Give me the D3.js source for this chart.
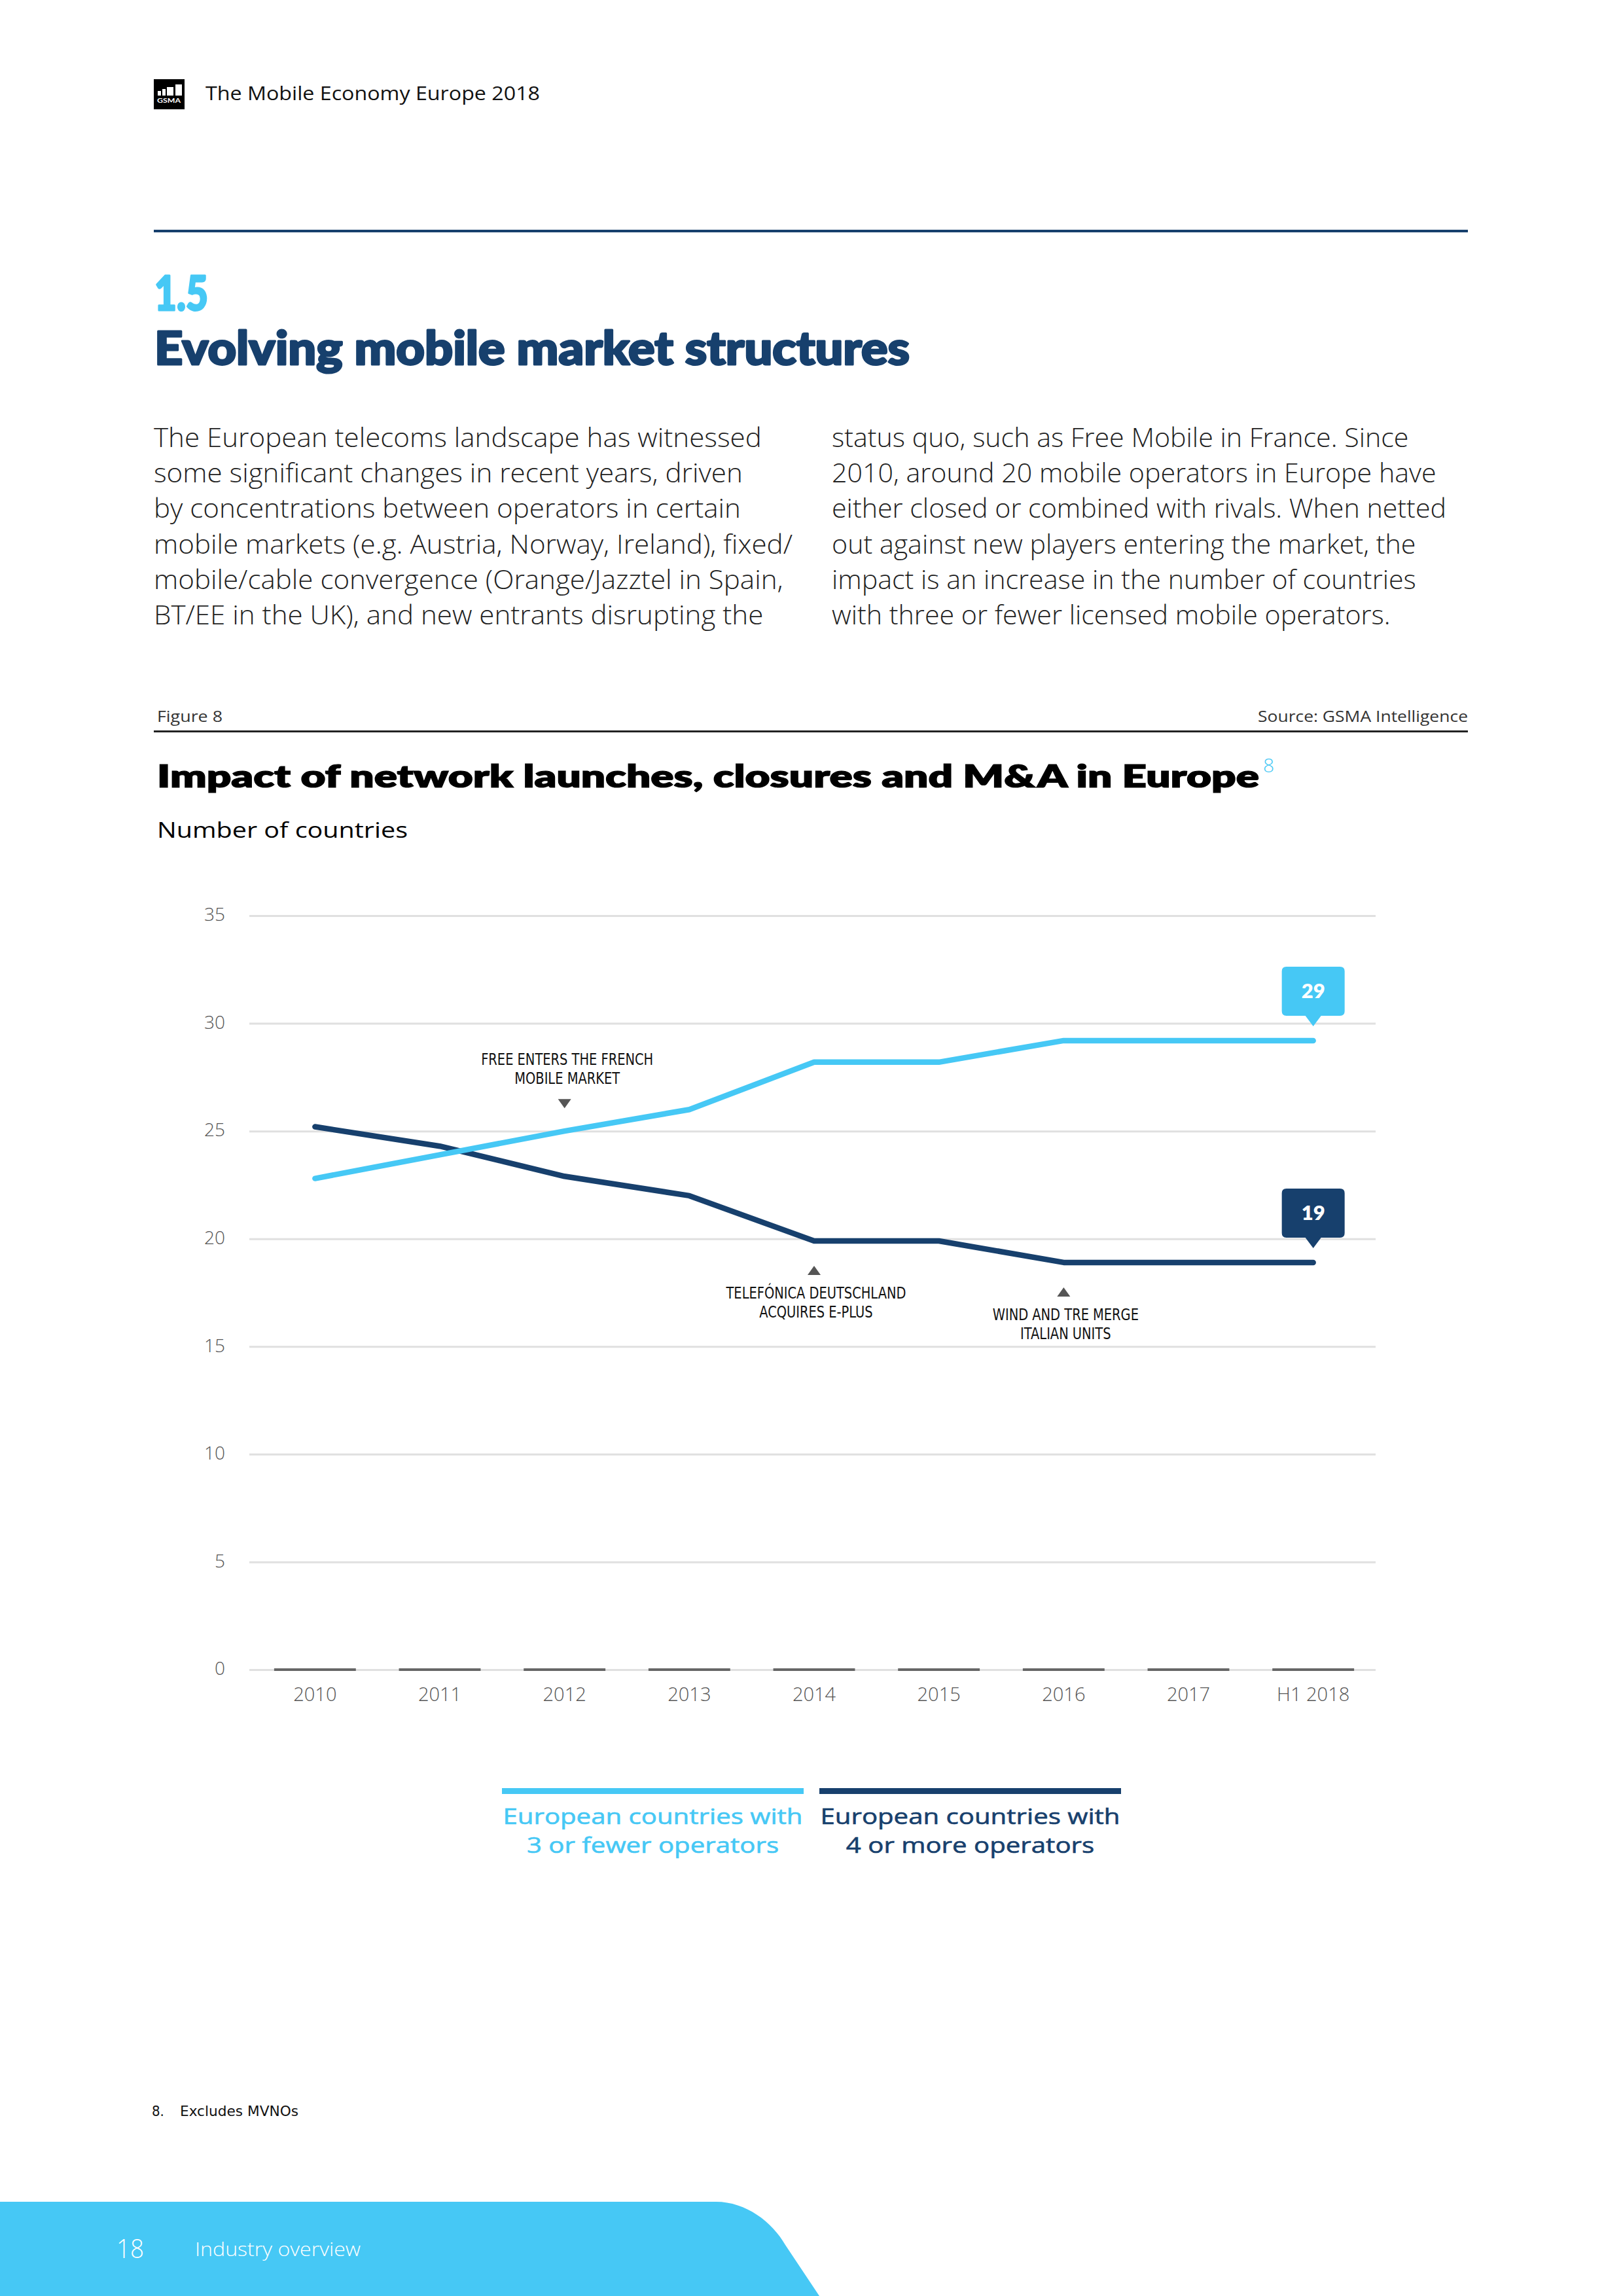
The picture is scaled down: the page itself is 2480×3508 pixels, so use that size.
<!DOCTYPE html>
<html>
<head>
<meta charset="utf-8">
<script src="https://cdn.jsdelivr.net/npm/d3@7"></script>
<style>
  html, body { margin: 0; padding: 0; background: #fff; }
  svg { display: block; }
</style>
</head>
<body>
<svg id="page" width="2480" height="3508"></svg>
<script>
// ---------------- DATA ----------------
const categories = ["2010", "2011", "2012", "2013", "2014", "2015", "2016", "2017", "H1 2018"];
const fewerOperators = [22.8, 23.9, 25, 26, 28.2, 28.2, 29.2, 29.2, 29.2];   // 3 or fewer operators
const moreOperators  = [25.2, 24.3, 22.9, 22, 19.9, 19.9, 18.9, 18.9, 18.9]; // 4 or more operators
const zeroBars = [0, 0, 0, 0, 0, 0, 0, 0, 0];
const yTicks = [0, 5, 10, 15, 20, 25, 30, 35];
const seriesLabels = [
  ["European countries with", "3 or fewer operators"],
  ["European countries with", "4 or more operators"]
];
const annotationCats = ["2012", "2014", "2016"];
const annotationSeries = ["fewer", "more", "more"];
const annotationDirs = ["down", "up", "up"];
const annotationTexts = [
  ["FREE ENTERS THE FRENCH", "MOBILE MARKET"],
  ["TELEFÓNICA DEUTSCHLAND", "ACQUIRES E-PLUS"],
  ["WIND AND TRE MERGE", "ITALIAN UNITS"]
];
const leftParagraph = [
  "The European telecoms landscape has witnessed",
  "some significant changes in recent years, driven",
  "by concentrations between operators in certain",
  "mobile markets (e.g. Austria, Norway, Ireland), fixed/",
  "mobile/cable convergence (Orange/Jazztel in Spain,",
  "BT/EE in the UK), and new entrants disrupting the"
];
const rightParagraph = [
  "status quo, such as Free Mobile in France. Since",
  "2010, around 20 mobile operators in Europe have",
  "either closed or combined with rivals. When netted",
  "out against new players entering the market, the",
  "impact is an increase in the number of countries",
  "with three or fewer licensed mobile operators."
];

// ---------------- STYLE ----------------
const LIGHT = "#46C8F5";
const NAVY = "#17406D";
const SANS = "'Open Sans', 'Noto Sans', Lato, sans-serif";
const HEAVY = "Lato, 'Noto Sans', sans-serif";
const COND = "'Liberation Sans Narrow', 'DejaVu Sans Condensed', 'Roboto Condensed', sans-serif";

const svg = d3.select("#page");
svg.append("rect").attr("width", 2480).attr("height", 3508).attr("fill", "#fff");

function fit(sel, w) { return sel.attr("textLength", w).attr("lengthAdjust", "spacingAndGlyphs"); }
function squeeze(sel, k) {
  sel.each(function () {
    const l = this.getComputedTextLength();
    d3.select(this).attr("textLength", l * k).attr("lengthAdjust", "spacingAndGlyphs");
  });
  return sel;
}

// ---------------- HEADER ----------------
const logo = svg.append("g");
logo.append("rect").attr("x", 235).attr("y", 121).attr("width", 47).attr("height", 46).attr("fill", "#000");
[[241, 139, 5], [248, 136, 5], [255, 133, 10], [268, 129, 10]].forEach(b => {
  logo.append("rect").attr("x", b[0]).attr("y", b[1]).attr("width", b[2]).attr("height", 146 - b[1]).attr("fill", "#fff");
});
fit(logo.append("text").attr("x", 240).attr("y", 157).attr("font-family", HEAVY).attr("font-weight", 700)
  .attr("font-size", 9).attr("fill", "#fff").text("GSMA"), 36);

fit(svg.append("text").attr("x", 314).attr("y", 153).attr("font-family", SANS).attr("font-weight", 500)
  .attr("font-size", 29).attr("fill", "#111").text("The Mobile Economy Europe 2018"), 511);

svg.append("rect").attr("x", 235).attr("y", 351).attr("width", 2008).attr("height", 4).attr("fill", NAVY);

fit(svg.append("text").attr("x", 236).attr("y", 474).attr("font-family", HEAVY).attr("font-weight", 900)
  .attr("font-size", 72).attr("fill", LIGHT).attr("stroke", LIGHT).attr("stroke-width", 3)
  .attr("stroke-linejoin", "round").text("1.5"), 82);
fit(svg.append("text").attr("x", 236).attr("y", 557).attr("font-family", HEAVY).attr("font-weight", 900)
  .attr("font-size", 70).attr("fill", NAVY).attr("stroke", NAVY).attr("stroke-width", 3)
  .attr("stroke-linejoin", "round").text("Evolving mobile market structures"), 1154);

// ---------------- BODY TEXT ----------------
function paragraph(lines, x, target) {
  const g = svg.append("g");
  const t = g.selectAll("text").data(lines).join("text")
    .attr("x", x).attr("y", (d, i) => 683 + i * 54.2)
    .attr("font-family", SANS).attr("font-weight", 300).attr("font-size", 40).attr("fill", "#222")
    .text(d => d);
  const maxLen = d3.max(t.nodes(), n => n.getComputedTextLength());
  squeeze(t, target / maxLen);
}
paragraph(leftParagraph, 235, 976);
paragraph(rightParagraph, 1271, 939);

// ---------------- FIGURE HEADER ----------------
fit(svg.append("text").attr("x", 240).attr("y", 1103).attr("font-family", SANS).attr("font-weight", 400)
  .attr("font-size", 23).attr("fill", "#333").text("Figure 8"), 100);
fit(svg.append("text").attr("x", 2243).attr("y", 1103).attr("text-anchor", "end").attr("font-family", SANS)
  .attr("font-weight", 400).attr("font-size", 23).attr("fill", "#333").text("Source: GSMA Intelligence"), 321);
svg.append("rect").attr("x", 235).attr("y", 1116).attr("width", 2008).attr("height", 3).attr("fill", "#222");

fit(svg.append("text").attr("x", 240).attr("y", 1203).attr("font-family", HEAVY).attr("font-weight", 800)
  .attr("font-size", 47).attr("fill", "#000").attr("stroke", "#000").attr("stroke-width", 1.2)
  .text("Impact of network launches, closures and M&A in Europe"), 1684);
svg.append("text").attr("x", 1930).attr("y", 1180).attr("font-family", SANS).attr("font-weight", 300)
  .attr("font-size", 30).attr("fill", LIGHT).text("8");
fit(svg.append("text").attr("x", 240).attr("y", 1280).attr("font-family", SANS).attr("font-weight", 400)
  .attr("font-size", 33).attr("fill", "#000").text("Number of countries"), 383);

// ---------------- CHART ----------------
const x = d3.scaleBand().domain(categories).range([386, 2102]).paddingInner(0.345).paddingOuter(0.1725);
const cx = c => x(c) + x.bandwidth() / 2;
const y = d3.scaleLinear().domain([0, 35]).range([2551, 1399]);
const gridX0 = 381, gridX1 = 2102;

const chart = svg.append("g");

// gridlines via axis
const yAxis = d3.axisLeft(y).tickValues(yTicks).tickSize(-(gridX1 - gridX0)).tickPadding(37);
const ya = chart.append("g").attr("transform", `translate(${gridX0},0)`).call(yAxis);
ya.select(".domain").remove();
ya.selectAll(".tick line").attr("stroke", "#e0e0e0").attr("stroke-width", 3);
ya.selectAll(".tick text").attr("font-family", SANS).attr("font-weight", 300).attr("font-size", 28)
  .attr("fill", "#555").attr("dy", "0.28em");

// zero-value bars
chart.append("g").selectAll("rect").data(zeroBars).join("rect")
  .attr("x", (d, i) => x(categories[i])).attr("width", x.bandwidth())
  .attr("y", d => y(d) - 2).attr("height", 4).attr("fill", "#666");

// x axis labels
const xAxis = d3.axisBottom(x).tickSize(0).tickPadding(27);
const xa = chart.append("g").attr("transform", `translate(0,${y(0)})`).call(xAxis);
xa.select(".domain").remove();
xa.selectAll(".tick text").attr("font-family", SANS).attr("font-weight", 300).attr("font-size", 29)
  .attr("fill", "#555");

// lines
const line = d3.line().x((d, i) => cx(categories[i])).y(d => y(d));
chart.append("path").datum(moreOperators).attr("d", line).attr("fill", "none")
  .attr("stroke", NAVY).attr("stroke-width", 8.5).attr("stroke-linecap", "round").attr("stroke-linejoin", "round");
chart.append("path").datum(fewerOperators).attr("d", line).attr("fill", "none")
  .attr("stroke", LIGHT).attr("stroke-width", 8.5).attr("stroke-linecap", "round").attr("stroke-linejoin", "round");

// callouts at last point
function callout(values, color) {
  const i = values.length - 1;
  const px = cx(categories[i]);
  const py = y(values[i]);
  const w = 96, h = 75, r = 7;
  const bottom = py - 38, top = bottom - h, tip = py - 22;
  const l = px - w / 2, rt = px + w / 2;
  const p = d3.path();
  p.moveTo(l + r, top);
  p.lineTo(rt - r, top); p.quadraticCurveTo(rt, top, rt, top + r);
  p.lineTo(rt, bottom - r); p.quadraticCurveTo(rt, bottom, rt - r, bottom);
  p.lineTo(px + 12, bottom); p.lineTo(px, tip); p.lineTo(px - 12, bottom);
  p.lineTo(l + r, bottom); p.quadraticCurveTo(l, bottom, l, bottom - r);
  p.lineTo(l, top + r); p.quadraticCurveTo(l, top, l + r, top);
  p.closePath();
  chart.append("path").attr("d", p.toString()).attr("fill", color);
  chart.append("text").attr("x", px).attr("y", top + h / 2 + 11).attr("text-anchor", "middle")
    .attr("font-family", HEAVY).attr("font-weight", 800).attr("font-size", 31).attr("fill", "#fff")
    .text(d3.format(".0f")(values[i]));
}
callout(fewerOperators, LIGHT);
callout(moreOperators, NAVY);

// annotations
annotationCats.forEach((c, k) => {
  const i = categories.indexOf(c);
  const v = annotationSeries[k] === "fewer" ? fewerOperators[i] : moreOperators[i];
  const px = cx(c);
  const g = chart.append("g");
  let triY, b1, b2;
  if (annotationDirs[k] === "down") {
    triY = y(v) - 42;
    b2 = triY - 30; b1 = b2 - 29;
    g.append("path").attr("d", `M${px - 10},${triY - 7}L${px + 10},${triY - 7}L${px},${triY + 7}Z`).attr("fill", "#555");
  } else {
    triY = y(v) + 45;
    b1 = triY + 43; b2 = b1 + 29;
    g.append("path").attr("d", `M${px - 10},${triY + 7}L${px + 10},${triY + 7}L${px},${triY - 7}Z`).attr("fill", "#555");
  }
  const t = g.selectAll("text").data(annotationTexts[k]).join("text")
    .attr("x", px + (annotationDirs[k] === "down" ? 4 : 3)).attr("y", (d, j) => j === 0 ? b1 : b2)
    .attr("text-anchor", "middle").attr("font-family", COND).attr("font-size", 24).attr("fill", "#111")
    .text(d => d);
  squeeze(t, 0.9);
});

// ---------------- LEGEND ----------------
const legendColors = [LIGHT, NAVY];
const legendX = [767, 1252];
const legendW = 461;
seriesLabels.forEach((lines, k) => {
  const g = svg.append("g");
  g.append("rect").attr("x", legendX[k]).attr("y", 2732).attr("width", legendW).attr("height", 9).attr("fill", legendColors[k]);
  const t = g.selectAll("text").data(lines).join("text")
    .attr("x", legendX[k] + legendW / 2).attr("y", (d, j) => 2787 + j * 44)
    .attr("text-anchor", "middle").attr("font-family", SANS).attr("font-weight", 500)
    .attr("font-size", 33).attr("fill", legendColors[k]).attr("stroke", legendColors[k]).attr("stroke-width", 0.6)
    .text(d => d);
  const first = t.nodes()[0].getComputedTextLength();
  squeeze(t, 458 / first);
});

// ---------------- FOOTNOTE & FOOTER ----------------
svg.append("text").attr("x", 232).attr("y", 3233).attr("font-family", COND).attr("font-size", 22).attr("fill", "#111").text("8.");
fit(svg.append("text").attr("x", 275).attr("y", 3233).attr("font-family", COND).attr("font-size", 22)
  .attr("fill", "#111").text("Excludes MVNOs"), 181);

svg.append("path").attr("d", "M0,3364 L1094,3364 C1140,3364 1180,3395 1200,3430 L1252,3508 L0,3508 Z").attr("fill", LIGHT);
fit(svg.append("text").attr("x", 178).attr("y", 3450).attr("font-family", SANS).attr("font-weight", 300)
  .attr("font-size", 40).attr("fill", "#fff").text("18"), 42);
fit(svg.append("text").attr("x", 298).attr("y", 3447).attr("font-family", SANS).attr("font-weight", 300)
  .attr("font-size", 30).attr("fill", "#fff").text("Industry overview"), 253);
</script>
</body>
</html>
